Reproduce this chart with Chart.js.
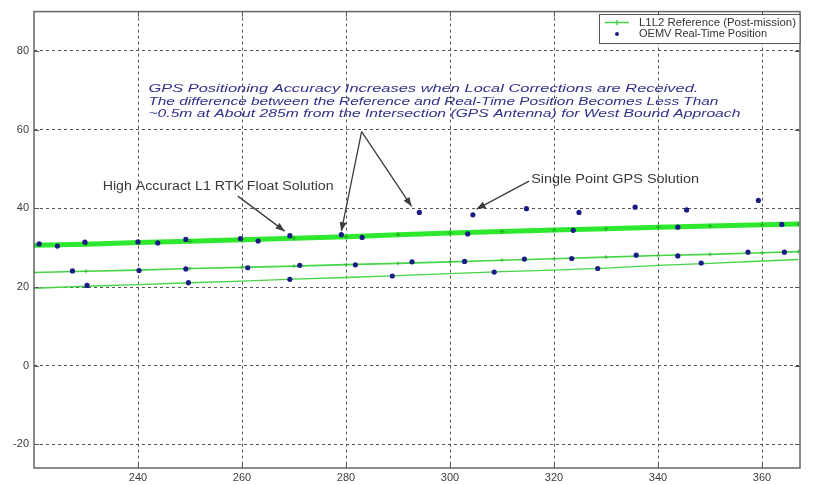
<!DOCTYPE html>
<html>
<head>
<meta charset="utf-8">
<script src="https://cdn.jsdelivr.net/npm/chart.js@4"></script>
<style>
  html, body { margin: 0; padding: 0; background: #fff; }
  #wrap { width: 838px; height: 485px; }
</style>
</head>
<body>
<div id="wrap"><canvas id="grafico"></canvas></div>
<script>
// L1L2 reference (post-mission), one value every 10 m
const refX   = [220, 230, 240, 250, 260, 270, 280, 290, 300, 310, 320, 330, 340, 350, 360, 367];
const refTop = [30.6, 30.9, 31.3, 31.6, 32.0, 32.4, 32.8, 33.3, 33.7, 34.1, 34.5, 34.8, 35.2, 35.5, 35.8, 36.0];
const refMid = [23.7, 24.0, 24.3, 24.7, 25.0, 25.3, 25.7, 26.0, 26.4, 26.8, 27.2, 27.6, 28.0, 28.3, 28.7, 29.0];
const refLow = [19.7, 20.2, 20.6, 21.1, 21.5, 22.0, 22.4, 22.9, 23.4, 23.9, 24.3, 24.8, 25.5, 26.0, 26.6, 27.0];

// OEMV real-time fixes
const rtX = [221.0, 224.5, 229.8, 240.0, 243.8, 249.2, 259.7, 263.1, 269.2, 279.1, 283.1, 303.4, 323.7, 343.8, 363.8,
             227.4, 240.2, 249.2, 261.1, 271.1, 281.8, 292.7, 302.8, 314.3, 323.4, 335.8, 343.8, 357.3, 364.3,
             230.2, 249.7, 269.2, 288.9, 308.5, 328.4, 348.3,
             294.1, 304.4, 314.7, 324.8, 335.6, 345.5, 359.3];
const rtY = [30.95, 30.4, 31.4, 31.45, 31.2, 32.1, 32.3, 31.7, 33.05, 33.3, 32.6, 33.5, 34.4, 35.2, 35.9,
             24.1, 24.2, 24.6, 24.9, 25.5, 25.65, 26.4, 26.5, 27.1, 27.25, 28.1, 27.9, 28.85, 28.85,
             20.4, 21.1, 21.95, 22.8, 23.8, 24.7, 26.1,
             38.95, 38.35, 39.9, 38.95, 40.3, 39.6, 42.0];

const xTicks = [240, 260, 280, 300, 320, 340, 360];
const yTicks = [-20, 0, 20, 40, 60, 80];

const legendNames = ["L1L2 Reference (Post-mission)", "OEMV Real-Time Position"];

const noteLines = [
  "GPS Positioning Accuracy Increases when Local Corrections are Received.",
  "The difference between the Reference and Real-Time Position Becomes Less Than",
  "~0.5m at About 285m from the Intersection (GPS Antenna) for West Bound Approach"
];
const rtkLabel = "High Accuract L1 RTK Float Solution";
const spLabel = "Single Point GPS Solution";

const FONT = "'Liberation Sans', Arial, sans-serif";
const GREEN = "#2ee82e";
const GREEN_THIN = "#45d645";
const NAVY = "#1c1c86";

function pares(xs, ys) {
  return xs.map((v, i) => ({ x: v, y: ys[i] }));
}

// text squeezed or stretched to the width it has in the picture
function textoLargura(ctx, s, px, py, w) {
  const k = w / ctx.measureText(s).width;
  ctx.save();
  ctx.translate(px, py);
  ctx.scale(k, 1);
  ctx.fillText(s, 0, 0);
  ctx.restore();
}

function seta(ctx, x1, y1, x2, y2) {
  const ang = Math.atan2(y2 - y1, x2 - x1);
  ctx.beginPath();
  ctx.moveTo(x1, y1);
  ctx.lineTo(x2, y2);
  ctx.stroke();
  ctx.beginPath();
  ctx.moveTo(x2, y2);
  ctx.lineTo(x2 - 9 * Math.cos(ang) + 3.5 * Math.sin(ang), y2 - 9 * Math.sin(ang) - 3.5 * Math.cos(ang));
  ctx.lineTo(x2 - 9 * Math.cos(ang) - 3.5 * Math.sin(ang), y2 - 9 * Math.sin(ang) + 3.5 * Math.cos(ang));
  ctx.closePath();
  ctx.fill();
}

// frame, MATLAB-like ticks, legend box and the annotations
const extras = {
  id: "extras",
  afterDraw(chart) {
    const { ctx, chartArea: a, scales: { x, y } } = chart;
    ctx.save();

    // ticks pointing inwards
    ctx.strokeStyle = "#555";
    ctx.lineWidth = 1;
    ctx.beginPath();
    xTicks.forEach(t => {
      const px = Math.round(x.getPixelForValue(t)) + 0.5;
      ctx.moveTo(px, a.bottom); ctx.lineTo(px, a.bottom - 5);
      ctx.moveTo(px, a.top); ctx.lineTo(px, a.top + 5);
    });
    yTicks.forEach(t => {
      const py = Math.round(y.getPixelForValue(t)) + 0.5;
      ctx.moveTo(a.left, py); ctx.lineTo(a.left + 5, py);
      ctx.moveTo(a.right, py); ctx.lineTo(a.right - 5, py);
    });
    ctx.stroke();

    ctx.strokeStyle = "#666";
    ctx.lineWidth = 1.5;
    ctx.strokeRect(a.left, a.top, a.right - a.left, a.bottom - a.top);

    // annotation text, blue italic
    ctx.fillStyle = "#30308a";
    ctx.font = "italic 11.5px " + FONT;
    ctx.textBaseline = "middle";
    const noteY = [70.3, 67.15, 64.0];
    const noteW = [550, 570, 592];
    noteLines.forEach((s, i) => {
      textoLargura(ctx, s, x.getPixelForValue(242), y.getPixelForValue(noteY[i]), noteW[i]);
    });

    ctx.fillStyle = "#3a3a3a";
    ctx.font = "12.5px " + FONT;
    textoLargura(ctx, rtkLabel, x.getPixelForValue(233.2), y.getPixelForValue(45.6), 231);
    textoLargura(ctx, spLabel, x.getPixelForValue(315.6), y.getPixelForValue(47.4), 168);

    // arrows
    ctx.strokeStyle = "#3c3c3c";
    ctx.fillStyle = "#3c3c3c";
    ctx.lineWidth = 1.3;
    const arrows = [
      [259.2, 43.1, 268.2, 34.2],
      [283.0, 59.5, 279.1, 34.2],
      [283.0, 59.5, 292.6, 40.5],
      [315.2, 46.9, 305.1, 39.8]
    ];
    arrows.forEach(r => seta(ctx, x.getPixelForValue(r[0]), y.getPixelForValue(r[1]),
                             x.getPixelForValue(r[2]), y.getPixelForValue(r[3])));

    // legend
    const lx = 599.5, ly = 14.5, lw = a.right - lx, lh = 29;
    ctx.fillStyle = "#fff";
    ctx.fillRect(lx, ly, lw, lh);
    ctx.strokeStyle = "#555";
    ctx.lineWidth = 1;
    ctx.strokeRect(lx, ly, lw, lh);
    ctx.strokeStyle = GREEN_THIN;
    ctx.lineWidth = 1.5;
    ctx.beginPath();
    ctx.moveTo(605, 22.5); ctx.lineTo(629, 22.5);
    ctx.moveTo(617, 20); ctx.lineTo(617, 25);
    ctx.stroke();
    ctx.fillStyle = NAVY;
    ctx.beginPath();
    ctx.arc(617, 34, 2, 0, Math.PI * 2);
    ctx.fill();
    ctx.fillStyle = "#333";
    ctx.font = "11px " + FONT;
    textoLargura(ctx, legendNames[0], 639, 22.5, 157);
    textoLargura(ctx, legendNames[1], 639, 34, 128);

    ctx.restore();
  }
};

const grade = {
  color: "#555",
  lineWidth: 1,
  drawTicks: false
};

new Chart(document.getElementById("grafico"), {
  type: "line",
  data: {
    datasets: [
      {
        label: legendNames[1],
        type: "scatter",
        data: pares(rtX, rtY),
        showLine: false,
        pointRadius: 2.6,
        pointBackgroundColor: NAVY,
        pointBorderWidth: 0,
        order: 0
      },
      {
        label: legendNames[0],
        data: pares(refX, refTop),
        borderColor: GREEN,
        borderWidth: 5,
        pointStyle: "cross",
        pointRadius: 2.5,
        pointBorderColor: "#22a822",
        pointBorderWidth: 1,
        order: 1
      },
      {
        label: legendNames[0],
        data: pares(refX, refMid),
        borderColor: GREEN_THIN,
        borderWidth: 1.6,
        pointStyle: "cross",
        pointRadius: 2,
        pointBorderColor: "#3cbc3c",
        pointBorderWidth: 1,
        order: 1
      },
      {
        label: legendNames[0],
        data: pares(refX, refLow),
        borderColor: GREEN_THIN,
        borderWidth: 1.4,
        pointRadius: 0,
        order: 1
      }
    ]
  },
  options: {
    responsive: true,
    maintainAspectRatio: false,
    animation: false,
    layout: { padding: { top: 7, right: 38, left: 0, bottom: 0 } },
    plugins: { legend: { display: false }, tooltip: { enabled: false } },
    scales: {
      x: {
        type: "linear",
        min: 220,
        max: 367.3,
        afterBuildTicks: s => { s.ticks = xTicks.map(v => ({ value: v })); },
        afterFit: s => { s.height = 17; },
        grid: grade,
        border: { display: false, dash: [3, 3] },
        ticks: { color: "#3c3c3c", font: { family: FONT, size: 11 }, padding: 3, maxRotation: 0 }
      },
      y: {
        min: -26,
        max: 90,
        afterBuildTicks: s => { s.ticks = yTicks.map(v => ({ value: v })); },
        afterFit: s => { s.width = 34; },
        grid: grade,
        border: { display: false, dash: [3, 3] },
        ticks: { color: "#3c3c3c", font: { family: FONT, size: 11 }, padding: 5 }
      }
    }
  },
  plugins: [extras]
});
</script>
</body>
</html>
